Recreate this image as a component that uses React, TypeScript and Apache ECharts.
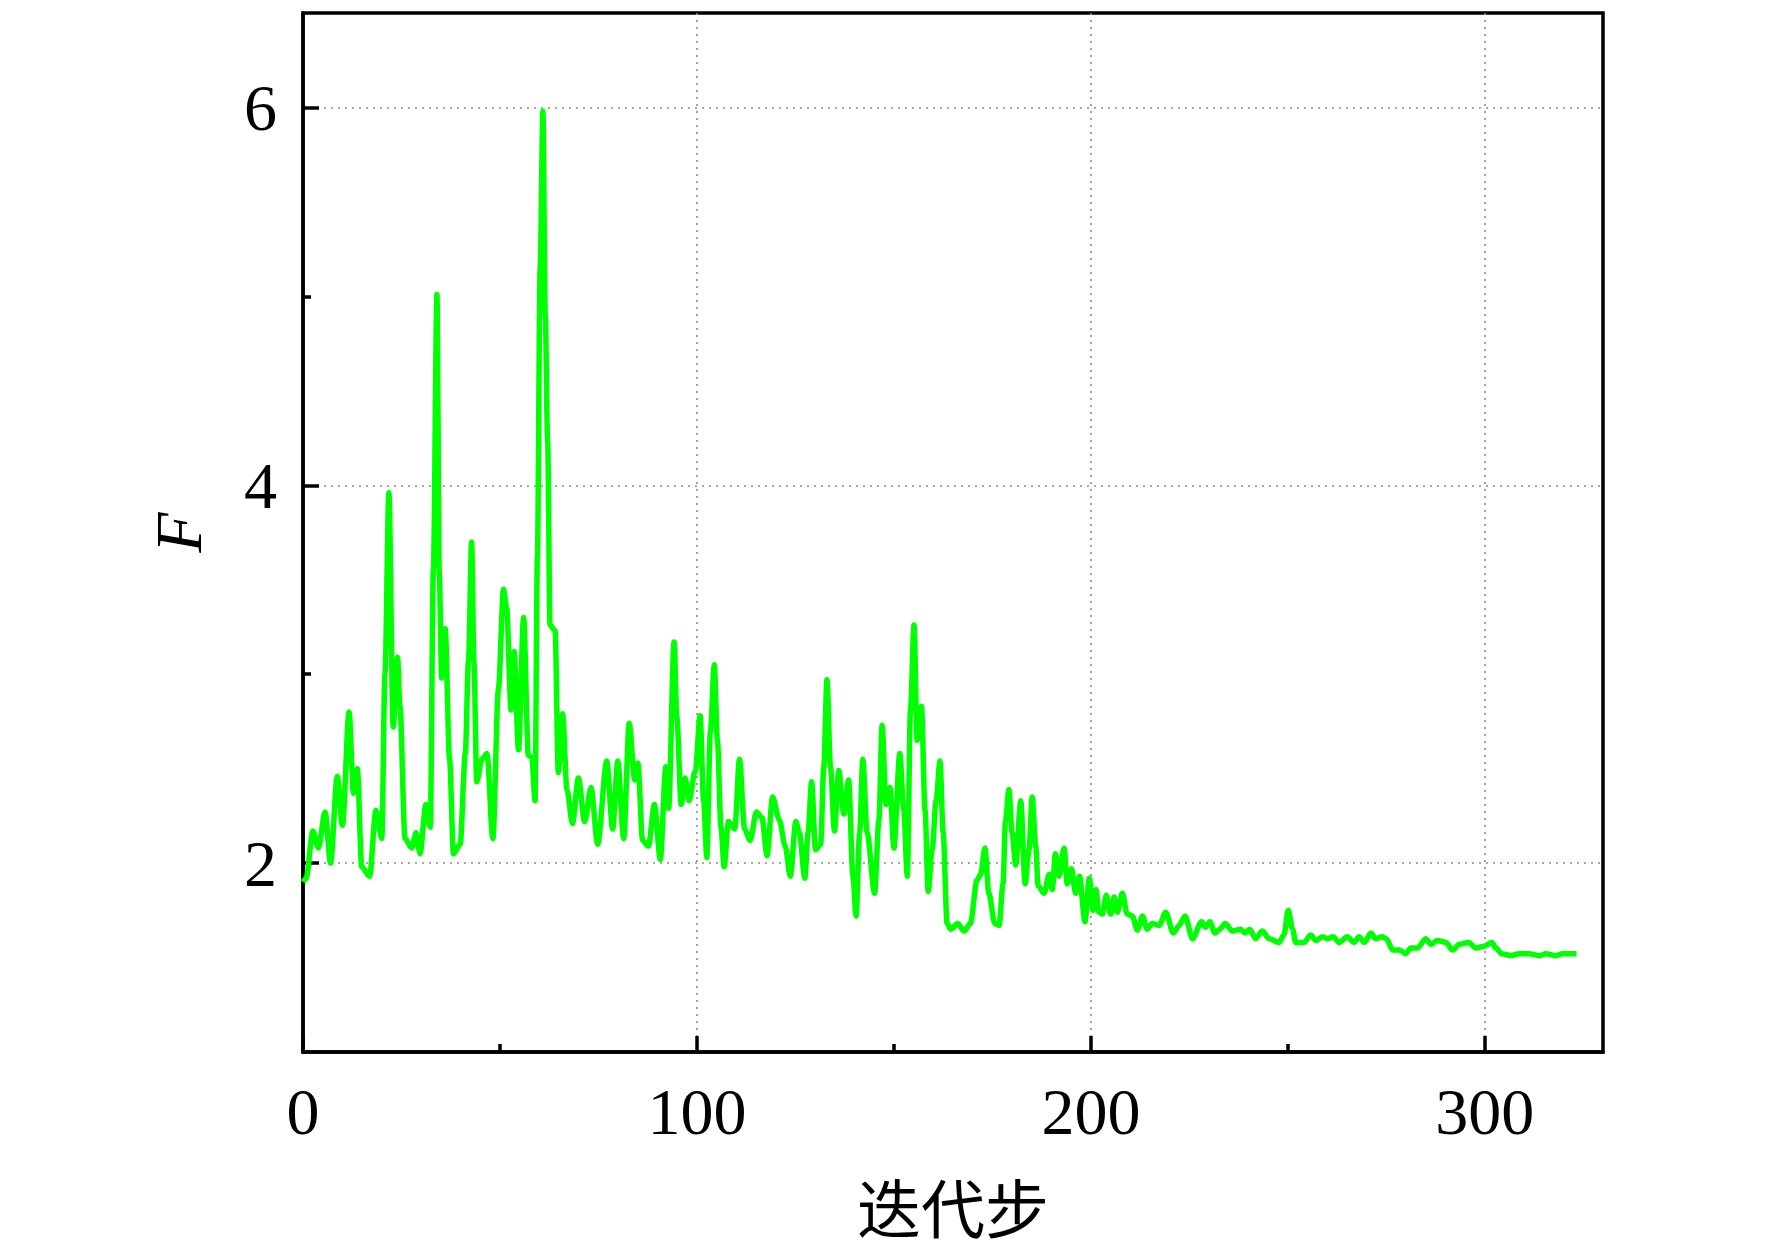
import React, { useEffect, useRef } from 'react';
import * as echarts from 'echarts';

// Iteration steps and objective value F, in four stages
const stepsA = [0, 0.8, 2.5, 3.9, 5.6, 7.0, 8.7, 10.0, 11.7, 12.8, 13.8, 14.9, 16.9, 18.5, 20.0, 20.8, 21.8, 22.9, 24.0, 24.6, 25.9, 27.6, 28.7, 29.7, 31.2, 32.3, 33.1, 34.0, 34.6, 35.2, 36.1, 37.2, 38.2, 39.9, 41.2, 42.0, 42.8, 43.4, 44.1, 45.4, 46.7, 48.2, 49.6, 50.9, 51.7, 52.8, 53.6, 54.7, 56.0, 57.2, 58.1, 58.9, 59.5, 60.2, 60.9, 61.5, 62.1, 62.7, 64.0, 64.8];
const fA = [1.9, 1.92, 2.17, 2.08, 2.27, 2.0, 2.46, 2.2, 2.8, 2.37, 2.5, 1.98, 1.93, 2.28, 2.13, 3.0, 3.96, 2.72, 3.09, 2.83, 2.13, 2.08, 2.16, 2.05, 2.31, 2.19, 3.56, 5.01, 3.53, 2.98, 3.24, 2.55, 2.05, 2.1, 2.58, 3.07, 3.7, 3.06, 2.43, 2.55, 2.58, 2.13, 2.92, 3.45, 3.35, 2.81, 3.12, 2.6, 3.3, 2.57, 2.56, 2.33, 3.62, 5.15, 5.98, 4.9, 4.23, 3.26, 3.23, 2.48];

const stepsB = [65.9, 67.0, 68.4, 69.9, 71.5, 73.1, 74.8, 77.1, 78.6, 79.9, 81.4, 82.8, 84.2, 85.0, 86.2, 87.7, 89.2, 90.7, 92.1, 92.8, 94.2, 94.9, 96.0, 97.0, 98.0, 99.6, 100.8, 101.7, 102.5, 103.4, 104.4, 105.2, 106.1, 106.9, 108.0, 109.6, 110.8, 112.1, 113.5, 115.1, 116.5, 117.8, 119.2, 120.9, 122.4, 123.7, 125.1];
const fB = [2.79, 2.39, 2.21, 2.45, 2.22, 2.4, 2.1, 2.54, 2.18, 2.54, 2.13, 2.74, 2.44, 2.53, 2.12, 2.09, 2.31, 2.02, 2.51, 2.29, 3.17, 2.77, 2.31, 2.45, 2.33, 2.49, 2.78, 2.33, 2.03, 2.69, 3.05, 2.65, 2.19, 1.98, 2.22, 2.18, 2.55, 2.18, 2.12, 2.27, 2.24, 2.04, 2.35, 2.23, 2.09, 1.93, 2.22];

const stepsC = [126.0, 127.4, 128.2, 129.1, 130.1, 131.4, 132.2, 133.0, 133.9, 134.9, 136.0, 137.3, 138.5, 139.6, 140.4, 141.3, 142.1, 143.2, 145.1, 146.2, 147.0, 148.0, 149.0, 150.0, 151.5, 152.5, 153.4, 154.2, 155.1, 155.9, 157.0, 157.9, 158.7, 159.7, 160.7, 161.7, 162.5, 163.5, 164.4, 166.2, 167.8, 169.4, 171.1, 172.0, 173.1, 174.1, 175.6, 176.7, 177.7, 178.3, 179.2, 180.0, 180.9, 182.2, 183.3, 184.3, 185.1, 186.0, 186.6, 188.1, 189.4, 190.2, 191.0, 191.9, 193.2, 194.0, 195.1, 196.1, 197.1, 198.5, 199.6, 200.6, 201.3, 202.0];
const fC = [2.16, 1.92, 2.16, 2.43, 2.07, 2.1, 2.51, 2.97, 2.51, 2.17, 2.49, 2.26, 2.44, 1.93, 1.72, 2.16, 2.55, 2.16, 1.84, 2.23, 2.73, 2.31, 2.4, 2.08, 2.58, 2.28, 1.93, 2.81, 3.26, 2.65, 2.83, 2.28, 1.85, 2.07, 2.33, 2.54, 2.16, 1.68, 1.65, 1.68, 1.64, 1.68, 1.91, 1.94, 2.08, 1.84, 1.68, 1.67, 1.89, 2.22, 2.39, 2.16, 1.99, 2.33, 1.89, 2.07, 2.35, 2.09, 1.88, 1.84, 1.94, 1.86, 2.05, 1.93, 2.08, 1.89, 1.97, 1.84, 1.93, 1.69, 1.92, 1.75, 1.86, 1.74];

const stepsD = [202.9, 203.9, 205.0, 205.9, 206.7, 208.0, 209.2, 210.5, 211.8, 213.1, 214.3, 215.6, 217.3, 219.0, 220.9, 222.4, 223.9, 225.8, 228.1, 229.1, 230.2, 231.5, 232.7, 234.1, 235.9, 238.0, 239.1, 240.3, 241.8, 243.5, 245.2, 247.8, 249.0, 250.1, 251.2, 252.0, 254.1, 255.8, 257.1, 258.8, 260.0, 261.5, 263.0, 265.1, 266.8, 268.1, 269.4, 271.1, 272.3, 273.9, 275.0, 276.6, 278.4, 279.8, 281.2, 282.9, 285.0, 286.3, 288.0, 290.1, 291.8, 293.5, 295.9, 297.7, 299.8, 301.8, 302.8, 304.3, 306.6, 308.7, 311.3, 313.8, 315.5, 318.0, 319.7, 323.3];
const fD = [1.73, 1.83, 1.73, 1.82, 1.74, 1.84, 1.73, 1.72, 1.645, 1.72, 1.65, 1.68, 1.67, 1.74, 1.63, 1.67, 1.72, 1.6, 1.69, 1.66, 1.69, 1.63, 1.65, 1.68, 1.64, 1.65, 1.63, 1.65, 1.6, 1.64, 1.6, 1.58, 1.62, 1.75, 1.65, 1.58, 1.58, 1.62, 1.59, 1.61, 1.6, 1.61, 1.58, 1.61, 1.58, 1.61, 1.58, 1.63, 1.6, 1.61, 1.6, 1.54, 1.54, 1.52, 1.55, 1.55, 1.6, 1.57, 1.59, 1.58, 1.54, 1.57, 1.58, 1.55, 1.56, 1.58, 1.55, 1.52, 1.51, 1.52, 1.52, 1.51, 1.52, 1.51, 1.52, 1.52];

// Axis ticks
const xMajorTicks = [0, 100, 200, 300];
const xMinorTicks = [50, 150, 250];
const yMajorTicks = [2, 4, 6];
const yMinorTicks = [3, 5];
const xName = '迭代步';
const yName = 'F';

const SERIF = '"Liberation Serif", "Times New Roman", serif';

export default function App() {
  const ref = useRef<HTMLDivElement>(null);
  useEffect(() => {
    if (!ref.current) return;
    const chart = echarts.init(ref.current, undefined, { renderer: 'svg' });
    const steps = [...stepsA, ...stepsB, ...stepsC, ...stepsD];
    const fv = [...fA, ...fB, ...fC, ...fD];
    const data = steps.map((s, i) => [s, fv[i]]);
    const lineStyleAxis = { color: '#000', width: 3.5 };
    const gridLine = { show: true, lineStyle: { color: '#8c8c8c', width: 1.6, type: [2, 5] as any } };
    chart.setOption({
      animation: false,
      backgroundColor: '#ffffff',
      grid: {
        left: 303, right: 169, top: 13, bottom: 200,
        show: true, borderColor: '#000', borderWidth: 3.5, backgroundColor: 'transparent',
      },
      xAxis: [
        {
          type: 'value', position: 'bottom', min: 0, max: 330, interval: 10,
          name: xName, nameLocation: 'middle', nameGap: 120,
          nameTextStyle: { fontFamily: '"Noto Sans CJK SC", sans-serif', fontSize: 64, lineHeight: 66, color: '#000' },
          axisLine: { show: true, lineStyle: lineStyleAxis },
          axisTick: { show: true, inside: true, length: 16, lineStyle: lineStyleAxis, customValues: xMajorTicks },
          axisLabel: { show: true, margin: 26, fontSize: 66, fontFamily: SERIF, color: '#000', customValues: xMajorTicks },
          splitLine: gridLine,
        },
        {
          type: 'value', position: 'bottom', min: 0, max: 330, interval: 10,
          axisLine: { show: false },
          axisTick: { show: true, inside: true, length: 8, lineStyle: lineStyleAxis, customValues: xMinorTicks },
          axisLabel: { show: false },
          splitLine: { show: false },
        },
      ],
      yAxis: [
        {
          type: 'value', position: 'left', min: 1, max: 6.5, interval: 1,
          name: yName, nameLocation: 'middle', nameGap: 92, nameRotate: 90,
          nameTextStyle: { fontFamily: SERIF, fontStyle: 'italic', fontSize: 66, color: '#000' },
          axisLine: { show: true, lineStyle: lineStyleAxis },
          axisTick: { show: true, inside: true, length: 16, lineStyle: lineStyleAxis, customValues: yMajorTicks },
          axisLabel: { show: true, margin: 26, fontSize: 66, fontFamily: SERIF, color: '#000', customValues: yMajorTicks },
          splitLine: gridLine,
        },
        {
          type: 'value', position: 'left', min: 1, max: 6.5, interval: 1,
          axisLine: { show: false },
          axisTick: { show: true, inside: true, length: 8, lineStyle: lineStyleAxis, customValues: yMinorTicks },
          axisLabel: { show: false },
          splitLine: { show: false },
        },
      ],
      series: [
        {
          type: 'line', xAxisIndex: 0, yAxisIndex: 0, data,
          showSymbol: false, symbol: 'none', smooth: 0.3, smoothMonotone: 'x',
          lineStyle: { color: '#00ff00', width: 5.5 },
          z: 1,
        },
      ],
    });
    return () => chart.dispose();
  }, []);
  return (
    <div
      ref={ref}
      style={{ position: 'fixed', left: 0, top: 0, width: 1772, height: 1252, background: '#fff' }}
    />
  );
}
